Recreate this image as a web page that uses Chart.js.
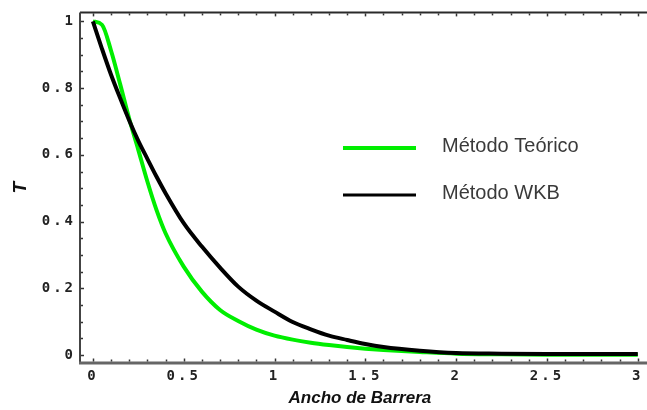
<!DOCTYPE html>
<html>
<head>
<meta charset="utf-8">
<title>Transmisión vs ancho de barrera</title>
<script src="https://cdn.jsdelivr.net/npm/chart.js@4.4.0/dist/chart.umd.min.js"></script>
<style>
  html, body { margin: 0; padding: 0; background: #fff; }
  #wrap { position: relative; width: 647px; height: 410px; }
</style>
</head>
<body>
<div id="wrap"><canvas id="tunnel-chart" width="647" height="410"></canvas></div>
<script>
// barrier width samples and transmission coefficient for each method
const barrierWidth = [0, 0.05, 0.1, 0.15, 0.2, 0.25, 0.3, 0.35, 0.4, 0.5, 0.6, 0.7, 0.8, 0.9,
                      1.0, 1.1, 1.2, 1.3, 1.4, 1.5, 1.6, 1.8, 2.0, 2.25, 2.5, 2.75, 3.0];
const theoryT = [1.0, 0.99, 0.912, 0.812, 0.708, 0.615, 0.52, 0.435, 0.365, 0.265, 0.19, 0.135, 0.102, 0.076,
                 0.058, 0.046, 0.037, 0.030, 0.024, 0.019, 0.015, 0.009, 0.004, 0.002, 0.001, 0.001, 0.001];
const wkbT = [1.0, 0.918, 0.84, 0.77, 0.703, 0.642, 0.588, 0.535, 0.485, 0.395, 0.325, 0.262, 0.205, 0.163,
              0.13, 0.099, 0.077, 0.058, 0.045, 0.033, 0.024, 0.013, 0.006, 0.004, 0.003, 0.003, 0.003];

const seriesNames = ['Método Teórico', 'Método WKB'];
const xTickValues = [0, 0.5, 1, 1.5, 2, 2.5, 3];
const xTickLabels = ['0', '0.5', '1', '1.5', '2', '2.5', '3'];
const yTickValues = [0, 0.2, 0.4, 0.6, 0.8, 1];
const yTickLabels = ['0', '0.2', '0.4', '0.6', '0.8', '1'];

const GREEN = '#00ee00';
const BLACK = '#000000';

function seg(ctx, x1, y1, x2, y2) {
  ctx.beginPath();
  ctx.moveTo(x1, y1);
  ctx.lineTo(x2, y2);
  ctx.stroke();
}

// axes frame with inward ticks, plus the legend inside the plot
const framePlugin = {
  id: 'frame',
  beforeDraw(chart) {
    const ctx = chart.ctx;
    ctx.save();
    ctx.fillStyle = '#fff';
    ctx.fillRect(0, 0, chart.width, chart.height);
    ctx.restore();
  },
  afterDatasetsDraw(chart) {
    // tick labels sit on layer z:1, drawn right after this hook
    chart.ctx.letterSpacing = '3px';
  },
  afterDraw(chart) {
    const ctx = chart.ctx;
    ctx.letterSpacing = '0px';
    const {left, top, bottom} = chart.chartArea;
    const xs = chart.scales.x, ys = chart.scales.y;
    ctx.save();

    ctx.strokeStyle = '#2a2a2a';
    ctx.lineWidth = 2;
    seg(ctx, left, top, chart.width, top);

    ctx.strokeStyle = '#444';
    ctx.lineWidth = 2;
    seg(ctx, left, top, left, bottom);

    ctx.strokeStyle = '#666';
    ctx.lineWidth = 3;
    seg(ctx, left - 1, bottom, chart.width, bottom);

    ctx.lineWidth = 1.5;
    ctx.strokeStyle = '#333';
    for (let i = 0; i <= 30; i++) {
      const px = Math.round(xs.getPixelForValue(i / 10)) + 0.5;
      const len = i % 5 === 0 ? 3 : 2;
      seg(ctx, px, bottom - 1.5, px, bottom - 1.5 - len);
      seg(ctx, px, top + 1, px, top + 1 + len);
    }
    for (let i = 0; i <= 20; i++) {
      const py = Math.round(ys.getPixelForValue(i / 20)) + 0.5;
      const len = i % 4 === 0 ? 3 : 2;
      seg(ctx, left + 1, py, left + 1 + len, py);
    }

    const items = [
      {label: seriesNames[0], color: GREEN, width: 4, y: 148},
      {label: seriesNames[1], color: BLACK, width: 3, y: 195}
    ];
    ctx.font = '20px "Liberation Sans", Arial, sans-serif';
    ctx.textBaseline = 'middle';
    ctx.textAlign = 'left';
    items.forEach(item => {
      ctx.strokeStyle = item.color;
      ctx.lineWidth = item.width;
      seg(ctx, 343, item.y, 416, item.y);
      ctx.fillStyle = '#3a3a3a';
      ctx.fillText(item.label, 442, item.y - 2);
    });
    ctx.restore();
  }
};

const axisTickFont = { family: '"DejaVu Sans Mono", monospace', size: 14, weight: 'bold' };
const axisTitleFont = { family: '"Liberation Sans", Arial, sans-serif', weight: 'bold', style: 'italic' };

const ctx = document.getElementById('tunnel-chart').getContext('2d');
const chart = new Chart(ctx, {
  type: 'line',
  data: {
    datasets: [
      {
        label: seriesNames[0],
        data: barrierWidth.map((x, i) => ({x: x, y: theoryT[i]})),
        borderColor: GREEN,
        borderWidth: 4,
        pointRadius: 0,
        cubicInterpolationMode: 'monotone',
        order: 1
      },
      {
        label: seriesNames[1],
        data: barrierWidth.map((x, i) => ({x: x, y: wkbT[i]})),
        borderColor: BLACK,
        borderWidth: 4,
        pointRadius: 0,
        cubicInterpolationMode: 'monotone',
        order: 0
      }
    ]
  },
  options: {
    responsive: false,
    animation: false,
    devicePixelRatio: 1,
    layout: { padding: { top: 9, right: 2, left: 0, bottom: 0 } },
    plugins: {
      legend: { display: false },
      tooltip: { enabled: false }
    },
    scales: {
      x: {
        type: 'linear',
        min: -0.071,
        max: 3.011,
        grid: { display: false, drawTicks: false, tickLength: 0 },
        border: { display: false },
        afterFit: scale => { scale.height = 47; },
        afterBuildTicks: scale => { scale.ticks = xTickValues.map(v => ({value: v})); },
        ticks: {
          z: 1,
          autoSkip: false,
          maxRotation: 0,
          padding: 5,
          color: '#222',
          font: axisTickFont,
          callback: (v, i) => xTickLabels[i]
        },
        title: {
          display: true,
          text: 'Ancho de Barrera',
          color: '#111',
          padding: { top: 0, bottom: 1 },
          font: Object.assign({ size: 17 }, axisTitleFont)
        }
      },
      y: {
        min: -0.024,
        max: 1.027,
        grid: { display: false, drawTicks: false, tickLength: 0 },
        border: { display: false },
        afterFit: scale => { scale.width = 80; },
        afterBuildTicks: scale => { scale.ticks = yTickValues.map(v => ({value: v})); },
        ticks: {
          z: 1,
          autoSkip: false,
          padding: 4,
          color: '#222',
          font: axisTickFont,
          callback: (v, i) => yTickLabels[i]
        },
        title: {
          display: true,
          text: 'T',
          color: '#111',
          padding: { top: 9, bottom: 0 },
          font: Object.assign({ size: 19 }, axisTitleFont)
        }
      }
    }
  },
  plugins: [framePlugin]
});
</script>
</body>
</html>
